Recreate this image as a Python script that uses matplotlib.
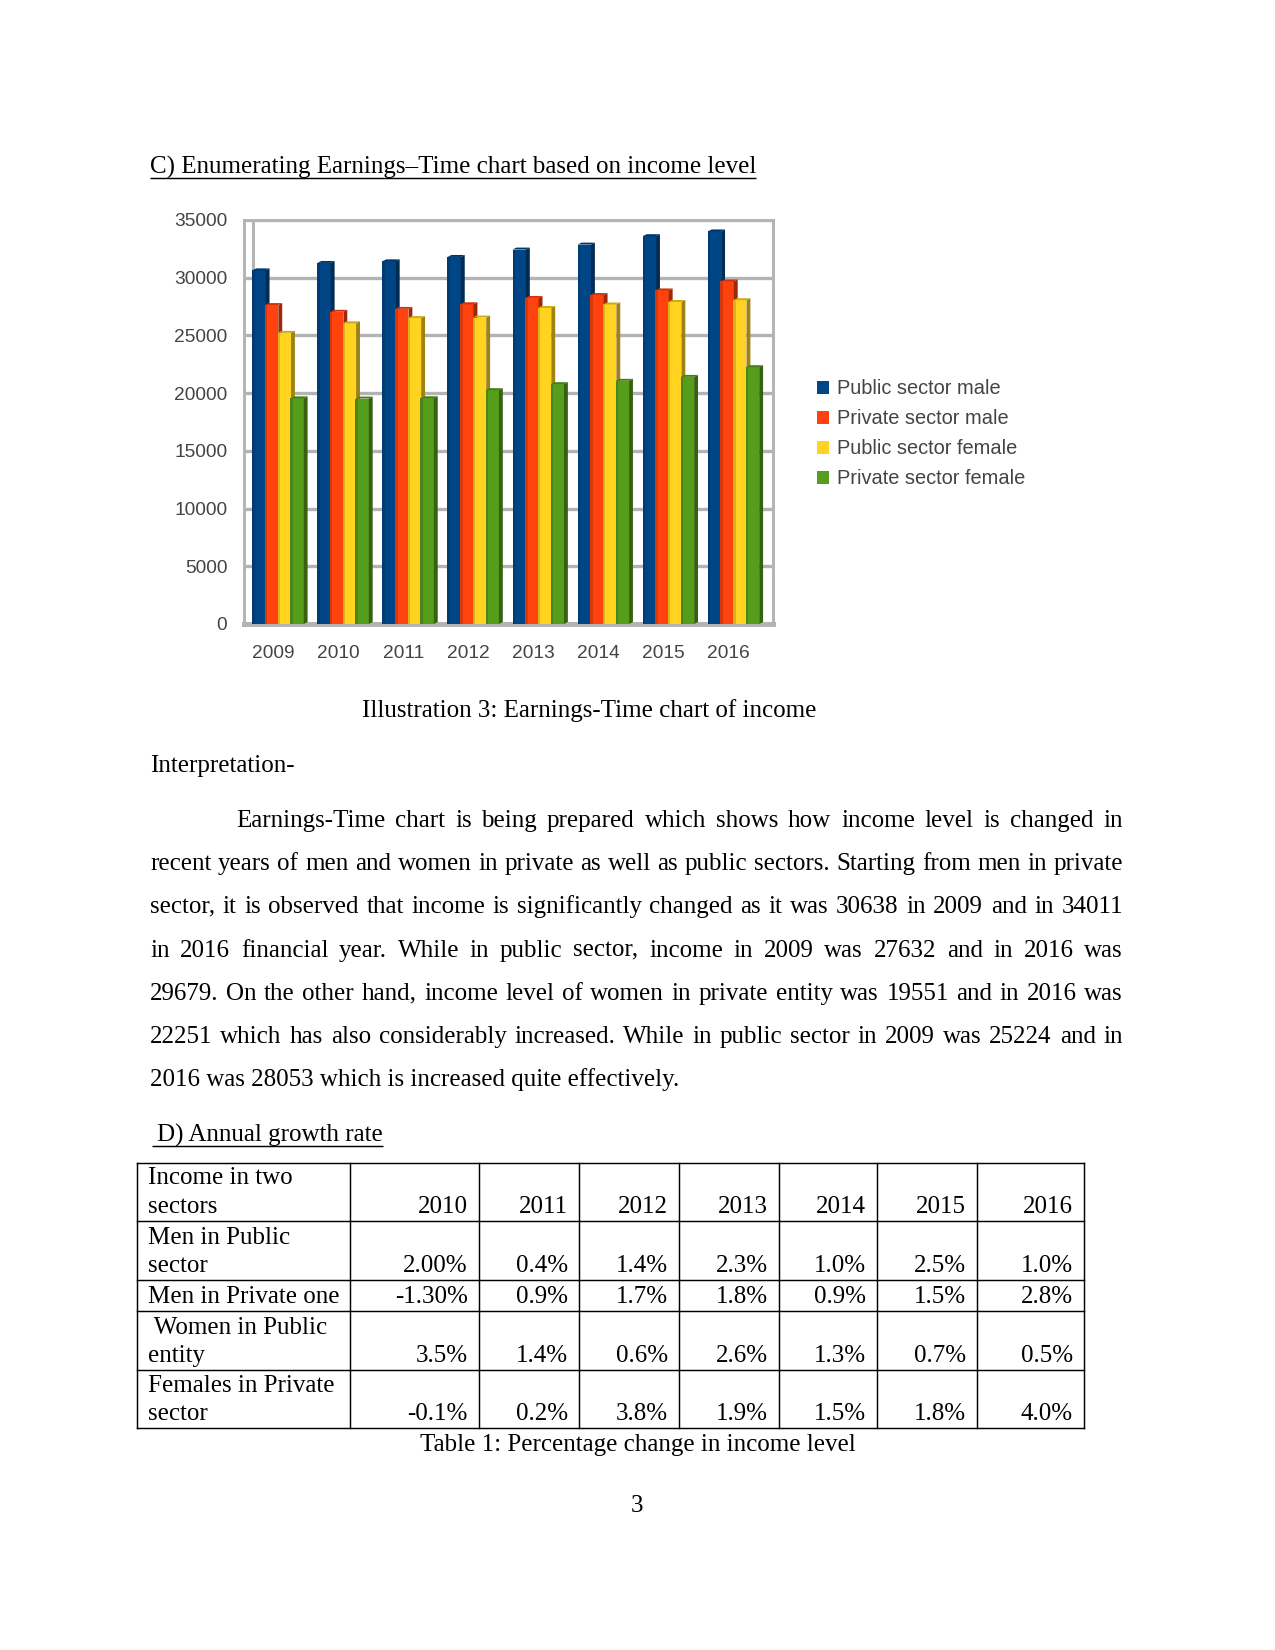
import matplotlib
matplotlib.use('Agg')
import matplotlib.pyplot as plt
from matplotlib.patches import Polygon
from matplotlib.colors import to_rgb
import numpy as np

# ---------------- data ----------------
years = ['2009', '2010', '2011', '2012', '2013', '2014', '2015', '2016']
series_labels = ['Public sector male', 'Private sector male',
                 'Public sector female', 'Private sector female']
public_male = [30638, 31280, 31420, 31800, 32440, 32870, 33600, 34011]
private_male = [27632, 27050, 27300, 27700, 28250, 28500, 28900, 29679]
public_female = [25224, 26050, 26500, 26550, 27380, 27680, 27900, 28053]
private_female = [19551, 19530, 19560, 20260, 20780, 21070, 21410, 22251]
series_colors = ['#004586', '#ff420e', '#ffd320', '#579d1c']

table_corner = ['Income in two', 'sectors']
table_years = ['2010', '2011', '2012', '2013', '2014', '2015', '2016']
table_row_labels = [['Men in Public', 'sector'],
                    ['Men in Private one'],
                    [' Women in Public', 'entity'],
                    ['Females in Private', 'sector']]
men_public_growth = ['2.00%', '0.4%', '1.4%', '2.3%', '1.0%', '2.5%', '1.0%']
men_private_growth = ['-1.30%', '0.9%', '1.7%', '1.8%', '0.9%', '1.5%', '2.8%']
women_public_growth = ['3.5%', '1.4%', '0.6%', '2.6%', '1.3%', '0.7%', '0.5%']
women_private_growth = ['-0.1%', '0.2%', '3.8%', '1.9%', '1.5%', '1.8%', '4.0%']

heading_c = 'C) Enumerating Earnings\u2013Time chart based on income level'
chart_caption = 'Illustration 3: Earnings-Time chart of income'
interp_label = 'Interpretation-'
paragraph_lines = [
    'Earnings-Time chart is being prepared which shows how income level is changed in',
    'recent years of men and women in private as well as public sectors. Starting from men in private',
    'sector, it is observed that income is significantly changed as it was 30638 in 2009 and in 34011',
    'in 2016 financial year. While in public sector, income in 2009 was 27632 and in 2016 was',
    '29679. On the other hand, income level of women in private entity was 19551 and in 2016 was',
    '22251 which has also considerably increased. While in public sector in 2009 was 25224 and in',
    '2016 was 28053 which is increased quite effectively.',
]
heading_d = 'D) Annual growth rate'
table_caption = 'Table 1: Percentage change in income level'
page_number = '3'

# ---------------- page ----------------
W, H = 1275, 1650
DPI = 150
fig = plt.figure(figsize=(W / DPI, H / DPI), dpi=DPI)
page = fig.add_axes([0, 0, 1, 1])
page.set_xlim(0, W)
page.set_ylim(H, 0)
page.axis('off')
renderer = fig.canvas.get_renderer()

SERIF = 'Liberation Serif'
SANS = 'Liberation Sans'
FS = 12


def text_width(s):
    t = page.text(0, 0, s, fontsize=FS, family=SERIF)
    w = t.get_window_extent(renderer).width
    t.remove()
    return w


def put(x, y, s, ha='left'):
    page.text(x, y, s, fontsize=FS, family=SERIF, va='baseline', ha=ha, color='black')


def underlined(x, y, s, ul_start=None):
    put(x, y, s)
    w = text_width(s)
    x0 = x if ul_start is None else ul_start
    page.plot([x0, x + w], [y + 3.5, y + 3.5], color='black', lw=0.7,
              solid_capstyle='butt')


def justify(line, x0, x1, y):
    words = line.split()
    widths = [text_width(w) for w in words]
    gap = (x1 - x0 - sum(widths)) / (len(words) - 1)
    x = x0
    for w, wd in zip(words, widths):
        put(x, y, w)
        x += wd + gap


# headings and text
underlined(150, 174, heading_c)
put(589, 717, chart_caption, ha='center')
put(150, 772, interp_label)

LEFT, RIGHT = 150, 1123
baselines = [827 + 43.2 * i for i in range(len(paragraph_lines))]
for i, line in enumerate(paragraph_lines):
    if i == 0:
        justify(line, 236, RIGHT, baselines[i])
    elif i == len(paragraph_lines) - 1:
        put(LEFT, baselines[i], line)
    else:
        justify(line, LEFT, RIGHT, baselines[i])

underlined(157, 1142, heading_d, ul_start=152)

# ---------------- table ----------------
col_edges = [137, 350, 479, 579, 679, 779, 877, 977, 1084]
row_edges = [1163, 1221, 1280, 1311, 1370, 1428]
for y in row_edges:
    page.plot([col_edges[0], col_edges[-1]], [y, y], color='black', lw=0.7,
              solid_capstyle='projecting')
for x in col_edges:
    page.plot([x, x], [row_edges[0], row_edges[-1]], color='black', lw=0.7,
              solid_capstyle='projecting')

LINE_H = 28.5
table_rows = [table_corner] + table_row_labels
table_values = [table_years, men_public_growth, men_private_growth,
                women_public_growth, women_private_growth]
for r in range(len(table_rows)):
    base = row_edges[r + 1] - 8
    lab = table_rows[r]
    for k, s in enumerate(lab):
        put(col_edges[0] + 11, base - LINE_H * (len(lab) - 1 - k), s)
    for c, v in enumerate(table_values[r]):
        put(col_edges[c + 2] - 11, base, v, ha='right')

put(637.5, 1451, table_caption, ha='center')
put(637.5, 1512, page_number, ha='center')

# ---------------- chart ----------------
ax_l, ax_r, ax_t, ax_b = 244, 773, 220, 624
ax = fig.add_axes([ax_l / W, 1 - ax_b / H, (ax_r - ax_l) / W, (ax_b - ax_t) / H])
ax.set_xlim(-0.45, 7.68)
ax.set_ylim(0, 35000)

GRID = '#b3b3b3'
ax.set_yticks(np.arange(0, 35001, 5000))
ax.yaxis.grid(True, color=GRID, lw=1.6, zorder=0)
ax.set_axisbelow(True)
for sp in ax.spines.values():
    sp.set_color(GRID)
    sp.set_linewidth(1.4)
ax.spines['bottom'].set_linewidth(2.4)
ax.axvline(-0.31, color=GRID, lw=1.4, zorder=0.5)

x = np.arange(len(years))
series = [public_male, private_male, public_female, private_female]
bw = 0.205
step = 0.195
first = -0.22
dx, dy = 0.06, 170
handles = []
for i, (vals, col) in enumerate(zip(series, series_colors)):
    z = 3 + i
    bars = ax.bar(x + first + step * i, vals, width=bw, color=col, zorder=z,
                  label=series_labels[i], linewidth=0)
    handles.append(bars)
    rgb = np.array(to_rgb(col))
    side = rgb * 0.62
    top = np.clip(rgb * 0.8, 0, 1)
    for rect in bars:
        bx, w, h = rect.get_x(), rect.get_width(), rect.get_height()
        ax.add_patch(Polygon([(bx + w, 0), (bx + w + dx, dy), (bx + w + dx, h + dy), (bx + w, h)],
                             closed=True, facecolor=side, edgecolor='none', zorder=z))
        ax.add_patch(Polygon([(bx, h), (bx + dx, h + dy), (bx + w + dx, h + dy), (bx + w, h)],
                             closed=True, facecolor=top, edgecolor='none', zorder=z))
        # subtle darker left edge to hint at the rounded look
        ax.add_patch(Polygon([(bx, 0), (bx + w * 0.18, 0), (bx + w * 0.18, h), (bx, h)],
                             closed=True, facecolor=rgb * 0.85, edgecolor='none', zorder=z))

ax.set_xticks(x)
ax.set_xticklabels(years)
ax.tick_params(axis='both', length=0, labelsize=9.2, labelcolor='#444444')
ax.tick_params(axis='y', pad=8)
ax.tick_params(axis='x', pad=10)
for lbl in ax.get_xticklabels() + ax.get_yticklabels():
    lbl.set_family(SANS)

leg = ax.legend(handles, series_labels, loc='center left',
                bbox_to_anchor=(817 / W, 1 - 434 / H), bbox_transform=fig.transFigure,
                frameon=False, handlelength=0.6, handleheight=0.6, handletextpad=0.42,
                labelspacing=0.55, borderpad=0, borderaxespad=0,
                prop={'family': SANS, 'size': 9.6}, labelcolor='#444444')

fig.savefig('out.png', dpi=DPI, facecolor='white')
